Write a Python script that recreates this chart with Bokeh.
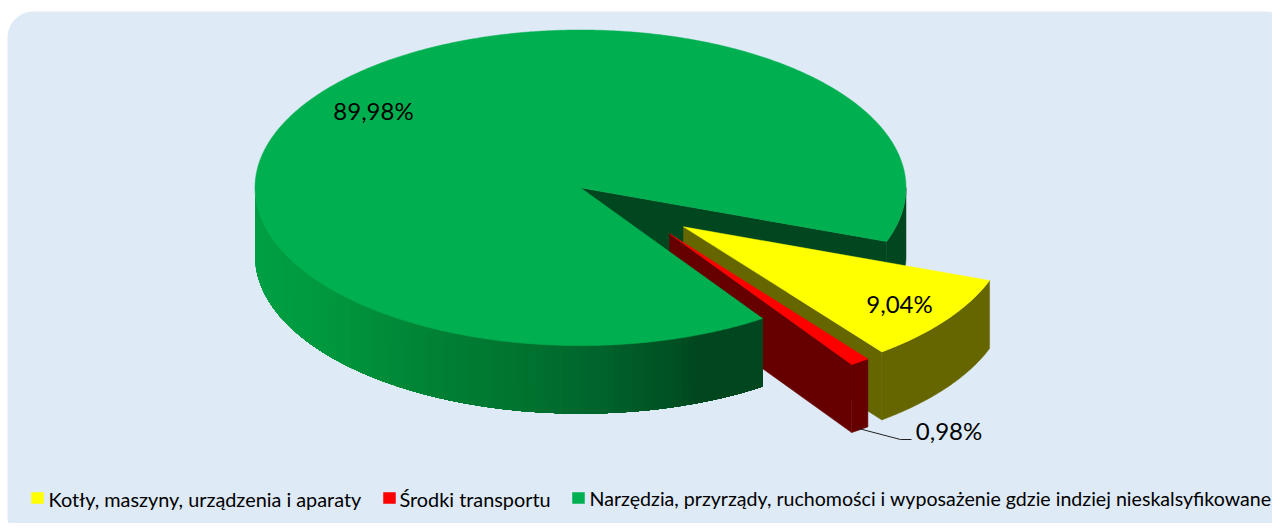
import math
from bokeh.plotting import figure
from bokeh.models import Range1d
from bokeh.core.properties import value
from bokeh.embed import file_html
from bokeh.resources import INLINE

categories = ["Kotły, maszyny, urządzenia i aparaty", "Środki transportu",
              "Narzędzia, przyrządy, ruchomości i wyposażenie gdzie indziej nieskalsyfikowane"]
shares = [9.04, 0.98, 89.98]
top_colors = ["#FFFF00", "#FF0000", "#00B050"]
wall_colors = ["#666600", "#660000", "#00461F"]

W, H = 1272, 523
PANEL = "#DEEAF6"
FONT = "Lato"
CX, CY, RX, RY, DEPTH = 580.0, 187.3, 325.5, 157.8, 68.0
START = 19.9
OFFSETS = [(103.0, 39.0), (89.0, 46.0), (0.0, 0.0)]
LABEL_POS = [(899, 302.5), (948.5, 430), (373, 109.5)]
LEGEND_SWATCH_X = [31, 383, 572]
LEGEND_TEXT_X = [48, 399, 589]
LEGEND_FONT_PX = ["19.85px", "19.85px", "19.6px"]

p = figure(width=W, height=H, output_backend="svg", toolbar_location=None,
           x_range=Range1d(0, W), y_range=Range1d(H, 0), min_border=0)
p.axis.visible = False
p.grid.visible = False
p.outline_line_color = None
p.background_fill_color = "white"
p.border_fill_color = "white"


def rounded(x0, y0, x1, y1, r):
    xs, ys = [], []
    for cx, cy, a0 in [(x1 - r, y0 + r, -90), (x1 - r, y1 - r, 0), (x0 + r, y1 - r, 90), (x0 + r, y0 + r, 180)]:
        for i in range(17):
            a = math.radians(a0 + i * 90 / 16)
            xs.append(cx + r * math.cos(a))
            ys.append(cy + r * math.sin(a))
    return xs, ys


def pt(a, off=(0, 0), z=0.0):
    t = math.radians(a)
    return CX + off[0] + RX * math.cos(t), CY + off[1] + RY * math.sin(t) + z


def arc(a0, a1, off=(0, 0), z=0.0):
    n = max(2, int(abs(a1 - a0) * 2))
    return [pt(a0 + (a1 - a0) * i / n, off, z) for i in range(n + 1)]


def poly(points, color, line=True):
    xs = [q[0] for q in points]
    ys = [q[1] for q in points]
    p.patch(xs, ys, fill_color=color, line_color=color if line else None, line_width=0.5)


def lerp_color(x):
    stops = [(254, (0, 160, 68)), (330, (0, 152, 62)), (420, (0, 132, 54)), (520, (0, 116, 48)),
             (600, (0, 100, 44)), (680, (0, 78, 34)), (700, (0, 70, 31)), (762, (0, 70, 31))]
    for (x0, c0), (x1, c1) in zip(stops, stops[1:]):
        if x <= x1:
            f = max(0.0, (x - x0) / (x1 - x0))
            return "#%02x%02x%02x" % tuple(int(c0[i] + (c1[i] - c0[i]) * f) for i in range(3))
    return "#00461f"


p.patch(*rounded(7, 11, 1292, 542, 26), fill_color=PANEL, line_color=None)

# slice angles come from the shares
angles = [START]
for s in shares:
    angles.append(angles[-1] + s * 3.6)

# wedge of the big slice: inner wall and outer wall seen through the gap
g0 = angles[2]
g1 = angles[3] - 360
poly([pt(g1), (CX, CY), (CX, CY + DEPTH), pt(g1, z=DEPTH)], wall_colors[2])
poly(arc(0, g1) + arc(g1, 0, z=DEPTH), wall_colors[2])

# exploded small slices, rear one first
for i in (0, 1):
    off = OFFSETS[i]
    a0, a1 = angles[i], angles[i + 1]
    tip = (CX + off[0], CY + off[1])
    tip_low = (tip[0], tip[1] + DEPTH)
    poly([tip, pt(a1, off), pt(a1, off, DEPTH), tip_low], wall_colors[i])
    poly(arc(a0, a1, off) + arc(a1, a0, off, DEPTH), wall_colors[i])
    poly([tip] + arc(a0, a1, off), top_colors[i])

# shaded outer wall of the big slice, painted from the left so no seams show
n_bands = 110
for k in range(n_bands):
    a = 180 - (180 - g0) * k / n_bands
    b = 180 - (180 - g0) * (k + 1) / n_bands
    col = lerp_color((pt(a)[0] + pt(b)[0]) / 2)
    poly(arc(a, g0) + arc(g0, a, z=DEPTH), col, line=False)

# big slice top
poly([(CX, CY)] + arc(g0, angles[3]), top_colors[2])

# leader line
p.line([858, 900, 911], [428, 439, 439], line_color="#222222", line_width=1)

# percentage labels
labels = [f"{s:.2f}%".replace(".", ",") for s in shares]
p.text([q[0] for q in LABEL_POS], [q[1] for q in LABEL_POS], text=labels,
       text_font=value(FONT), text_font_size="24px", text_color="black",
       text_align="center", text_baseline="middle")

# legend
for sx, tx, cat, col, fs in zip(LEGEND_SWATCH_X, LEGEND_TEXT_X, categories, top_colors, LEGEND_FONT_PX):
    poly([(sx, 492), (sx + 12, 492), (sx + 12, 503), (sx, 503)], col)
    p.text([tx], [498], text=[cat], text_font=value(FONT), text_font_size=fs,
           text_color="black", text_align="left", text_baseline="middle")

open("out.html", "w").write(file_html(p, INLINE))
